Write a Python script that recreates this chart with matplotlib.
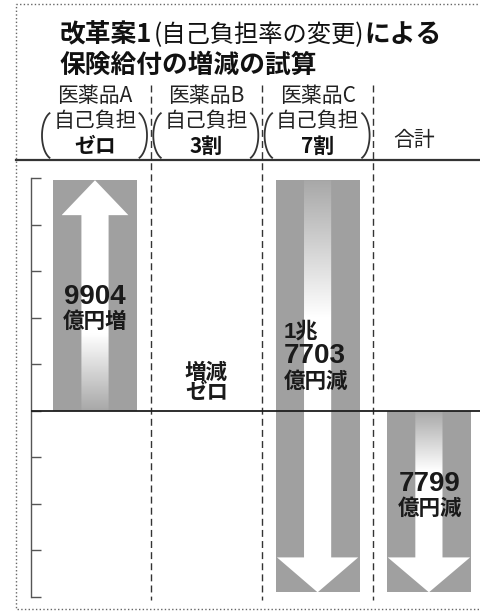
import matplotlib
matplotlib.use("Agg")
import matplotlib.pyplot as plt
import numpy as np
from matplotlib.patches import Polygon
from matplotlib.transforms import blended_transform_factory

plt.rcParams["font.family"] = ["Noto Sans CJK JP", "DejaVu Sans"]

# values in 億円
categories = ["医薬品A", "医薬品B", "医薬品C", "合計"]
burden = ["ゼロ", "3割", "7割"]
changes = [9904, 0, -17703]
value_labels = [
    ["9904", "億円増"],
    ["増減", "ゼロ"],
    ["1兆", "7703", "億円減"],
    ["7799", "億円減"],
]
y_ticks = [-8000, -6000, -4000, -2000, 0, 2000, 4000, 6000, 8000, 10000]

W, H, DPI = 481, 611, 100
GRAY = "#a0a0a0"
INK = "#1e1e1e"
PX = 72 / DPI  # points per pixel
UNIT = 111.3   # pixels per category step

# waterfall
starts, ends = [], []
run = 0
for c in changes:
    starts.append(run)
    run += c
    ends.append(run)
starts.append(0)
ends.append(run)
xs = np.arange(len(categories))

fig = plt.figure(figsize=(W / DPI, H / DPI), dpi=DPI)
bg = fig.add_axes([0, 0, 1, 1])
bg.set_xlim(0, W)
bg.set_ylim(H, 0)
bg.axis("off")

ax = fig.add_axes([31 / W, (H - 597) / H, (W - 31) / W, 419 / H])
ax.set_facecolor("none")
for s in ["top", "right", "bottom"]:
    ax.spines[s].set_visible(False)
ax.spines["left"].set_color("#555555")
ax.spines["left"].set_linewidth(1)
ax.set_yticks(y_ticks)
ax.set_yticklabels([])
ax.set_xticks([])
ax.tick_params(axis="y", direction="in", length=7, width=1, color="#555555")

heights = [e - s for s, e in zip(starts, ends)]
ax.bar(xs, heights, bottom=starts, width=0.755, color=GRAY, linewidth=0, zorder=2)
ax.axhline(0, color=INK, lw=1.3, zorder=4)

# white arrows with a fade toward their base
head_hw = [0.30, 0.365, 0.365, 0.37]
shaft_hw = 0.122
head_len = 1500
for x, y0, y1, hw in zip(xs, starts, ends, head_hw):
    if y0 == y1:
        continue
    d = np.sign(y1 - y0)
    yb = y1 - d * head_len
    pts = [(x - shaft_hw, y0), (x - shaft_hw, yb), (x - hw, yb), (x, y1),
           (x + hw, yb), (x + shaft_hw, yb), (x + shaft_hw, y0)]
    patch = Polygon(pts, closed=True, facecolor="none", edgecolor="none")
    ax.add_patch(patch)
    lo, hi = min(y0, y1), max(y0, y1)
    yy = np.linspace(lo, hi, 300)
    frac = np.abs(yy - y0) / abs(y1 - y0)
    alpha = np.clip(0.08 + frac / 0.36, 0, 1)
    rgba = np.ones((300, 2, 4))
    rgba[:, :, 3] = alpha[:, None]
    im = ax.imshow(rgba, extent=(x - hw, x + hw, lo, hi), origin="lower",
                   aspect="auto", interpolation="bilinear", zorder=3)
    im.set_clip_path(patch)
ax.set_xlim(-0.575, 3.468)
ax.set_ylim(-8000, 10000)

# value labels
label_anchor = [(0, (starts[0] + ends[0]) / 2), (1, 0),
                (2, (starts[2] + ends[2]) / 2), (3, (starts[3] + ends[3]) / 2)]
label_dx = [0, 0, -34, 1]
label_dy = [[-1, -26], [38, 18], [54, 30, 5], [18, -7]]
label_ha = ["center", "center", "left", "center"]
for (x, y), dx, dys, ha, lines in zip(label_anchor, label_dx, label_dy, label_ha, value_labels):
    for dy, line in zip(dys, lines):
        if line[0].isdigit():
            size = 20 if line.isdigit() else 16
            kw = dict(fontsize=size, fontweight="bold", family=["Liberation Sans", "Noto Sans CJK JP"])
        else:
            kw = dict(fontsize=15.5, fontweight="bold", family=["Noto Sans CJK JP", "Liberation Sans"])
        ax.annotate(line, xy=(x, y), xytext=(dx * PX, dy * PX), textcoords="offset points",
                    ha=ha, va="center", color="#1a1a1a", zorder=5, **kw)

# header area (x follows the categories, y in pixels)
hdr = blended_transform_factory(ax.transData, bg.transData)
t_left = np.radians(np.linspace(112, 248, 40))
t_right = np.radians(np.linspace(-68, 68, 40))
for i in range(3):
    ax.text(xs[i], 96, categories[i], transform=hdr, ha="center", va="center",
            fontsize=15, color="#222222", clip_on=False)
    ax.text(xs[i], 121, "自己負担", transform=hdr, ha="center", va="center",
            fontsize=15, color="#222222", clip_on=False)
    ax.text(xs[i], 146, burden[i], transform=hdr, ha="center", va="center",
            fontsize=15, fontweight="bold", color="#111111", clip_on=False)
    for cx, tt in [(xs[i] - 41 / UNIT, t_left), (xs[i] + 40 / UNIT, t_right)]:
        ax.plot(cx + 12 / UNIT * np.cos(tt), 135.5 + 24 * np.sin(tt), transform=hdr,
                color="#333333", lw=1.3, clip_on=False)
ax.annotate(categories[3], xy=(xs[3], 140), xycoords=hdr, xytext=(-15 * PX, 0),
            textcoords="offset points", ha="center", va="center", fontsize=15,
            color="#222222", annotation_clip=False)

for xd in [0.5, 1.5, 2.5]:
    ax.plot([xd, xd], [85, 600], transform=hdr, color="#333333", lw=1,
            linestyle=(0, (5, 3)), clip_on=False, zorder=1)

bg.plot([16, W], [160, 160], color="#333333", lw=1.6)

# outer frame
bg.plot([W, 16.5, 16.5, W], [3.5, 3.5, 608.5, 608.5],
        color="#666666", lw=1, linestyle=":")

# title
renderer = fig.canvas.get_renderer()
title_parts = [("改革案1", 18.5, "bold"), ("(自己負担率の変更)", 17.5, "normal"), ("による", 18.5, "bold")]
x = 60
for text, size, weight in title_parts:
    t = bg.text(x, 42, text, fontsize=size, fontweight=weight, ha="left", va="baseline", color="#111111")
    bb = t.get_window_extent(renderer)
    x = bg.transData.inverted().transform((bb.x1, bb.y0))[0] + 1
bg.text(60, 73, "保険給付の増減の試算", fontsize=18.5, fontweight="bold", ha="left",
        va="baseline", color="#111111")

fig.savefig("out.png", dpi=DPI)
